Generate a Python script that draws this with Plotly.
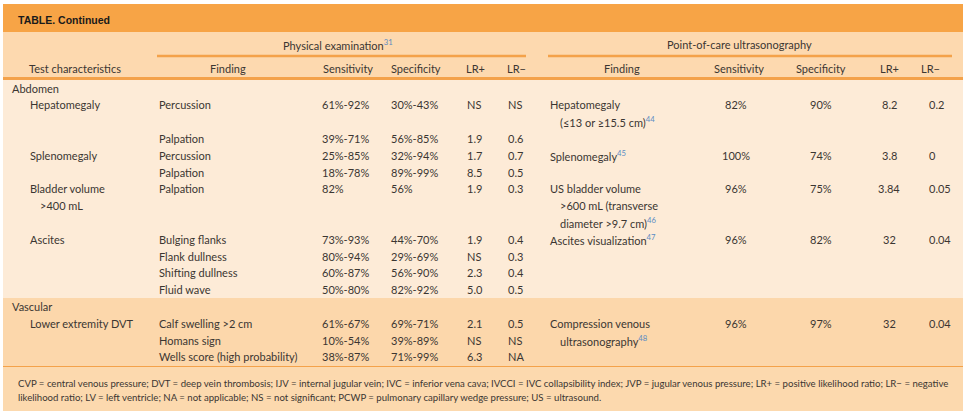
import plotly.graph_objects as go

# ---------------- data ----------------
title_text = "TABLE. Continued"
group_pe = "Physical examination"
group_pe_ref = "31"
group_us = "Point-of-care ultrasonography"
col_headers_pe = ["Test characteristics", "Finding", "Sensitivity", "Specificity", "LR+", "LR\u2212"]
col_headers_us = ["Finding", "Sensitivity", "Specificity", "LR+", "LR\u2212"]

sections = ["Abdomen", "Vascular"]
section_lines = [0, 13]

test_names = [["Hepatomegaly"], ["Splenomegaly"], ["Bladder volume", ">400 mL"], ["Ascites"], ["Lower extremity DVT"]]
test_lines = [1, 4, 6, 9, 14]

pe_finding = ["Percussion", "Palpation", "Percussion", "Palpation", "Palpation",
              "Bulging flanks", "Flank dullness", "Shifting dullness", "Fluid wave",
              "Calf swelling >2 cm", "Homans sign", "Wells score (high probability)"]
pe_lines = [1, 3, 4, 5, 6, 9, 10, 11, 12, 14, 15, 16]
pe_sens = ["61%-92%", "39%-71%", "25%-85%", "18%-78%", "82%", "73%-93%", "80%-94%",
           "60%-87%", "50%-80%", "61%-67%", "10%-54%", "38%-87%"]
pe_spec = ["30%-43%", "56%-85%", "32%-94%", "89%-99%", "56%", "44%-70%", "29%-69%",
           "56%-90%", "82%-92%", "69%-71%", "39%-89%", "71%-99%"]
pe_lrp = ["NS", "1.9", "1.7", "8.5", "1.9", "1.9", "NS", "2.3", "5.0", "2.1", "NS", "6.3"]
pe_lrn = ["NS", "0.6", "0.7", "0.5", "0.3", "0.4", "0.3", "0.4", "0.5", "0.5", "NS", "NA"]

us_finding = [["Hepatomegaly", "(\u226413 or \u226515.5 cm)"], ["Splenomegaly"],
              ["US bladder volume", ">600 mL (transverse", "diameter >9.7 cm)"],
              ["Ascites visualization"], ["Compression venous", "ultrasonography"]]
us_refs = ["44", "45", "46", "47", "48"]
us_lines = [1, 4, 6, 9, 14]
us_sens = ["82%", "100%", "96%", "96%", "96%"]
us_spec = ["90%", "74%", "75%", "82%", "97%"]
us_lrp = ["8.2", "3.8", "3.84", "32", "32"]
us_lrn = ["0.2", "0", "0.05", "0.04", "0.04"]

footnote_lines = [
    "CVP = central venous pressure; DVT = deep vein thrombosis; IJV = internal jugular vein; IVC = inferior vena cava; "
    "IVCCI = IVC collapsibility index; JVP = jugular venous pressure; LR+ = positive likelihood ratio; LR\u2212 = negative",
    "likelihood ratio; LV = left ventricle; NA = not applicable; NS = not significant; PCWP = pulmonary capillary "
    "wedge pressure; US = ultrasound.",
]

# ---------------- style / layout ----------------
W, H = 967, 420
FONT = "Lato"
TXT = "#3b3632"
REF = "#5a8cc4"
C_TITLE = "#F7A446"
C_HEAD = "#FDD9AF"
C_BODY1 = "#FDEBD7"
C_BODY2 = "#FCD7AB"
C_FOOT = "#FCD9AE"
C_LINE = "#F4A24A"

L, R = 3, 963
Y0 = 88.0
DY = 16.8

def yl(i):
    return Y0 + i * DY

fig = go.Figure()
shapes = []
def rect(x0, y0, x1, y1, color):
    shapes.append(dict(type="rect", xref="x", yref="y", x0=x0, x1=x1, y0=y0, y1=y1,
                       fillcolor=color, line=dict(width=0), layer="below"))
def hline(x0, x1, y, color, w):
    shapes.append(dict(type="line", xref="x", yref="y", x0=x0, x1=x1, y0=y, y1=y,
                       line=dict(color=color, width=w)))

rect(L, 4, R, 32, C_TITLE)
rect(L, 32, R, 78, C_HEAD)
rect(L, 78, R, 298, C_BODY1)
rect(L, 298, R, 366, C_BODY2)
rect(L, 366, R, 411, C_FOOT)
hline(157, 526, 56, C_LINE, 2.5)
hline(548, 952, 56, C_LINE, 2.5)
hline(L, R, 78.5, C_LINE, 3)
hline(L, R, 366.5, C_LINE, 1)

ann = []
def text(x, y, s, anchor="left", size=11, color=TXT, family=FONT):
    ann.append(dict(x=x, y=y, xref="x", yref="y", text=s, showarrow=False,
                    xanchor=anchor, yanchor="middle",
                    font=dict(family=family, size=size, color=color)))

def sup(r):
    return f"<span style='color:{REF}'><sup>{r}</sup></span>"

text(16, 19.5, "<b>" + title_text + "</b>", size=10.5, color="#1a1a1a", family="Liberation Sans, Arial")
text(338, 44, group_pe + sup(group_pe_ref), anchor="center")
text(739, 44, group_us, anchor="center")

hy = 68
pe_hx = [(75, "center"), (228, "center"), (321, "left"), (389, "left"), (464, "left"), (505, "left")]
for (x, a), s in zip(pe_hx, col_headers_pe):
    text(x, hy, s, anchor=a)
us_hx = [(622, "center"), (739, "center"), (821, "center"), (889, "center"), (930, "center")]
for (x, a), s in zip(us_hx, col_headers_us):
    text(x, hy, s, anchor=a)

for s, li in zip(sections, section_lines):
    text(10, yl(li), s)
for names, li in zip(test_names, test_lines):
    for k, s in enumerate(names):
        text(28 if k == 0 else 38, yl(li + k), s)

for i, li in enumerate(pe_lines):
    y = yl(li)
    text(157, y, pe_finding[i])
    text(320, y, pe_sens[i])
    text(389, y, pe_spec[i])
    text(465, y, pe_lrp[i])
    text(506, y, pe_lrn[i])

for i, li in enumerate(us_lines):
    lines = us_finding[i]
    for k, s in enumerate(lines):
        if k == len(lines) - 1:
            s = s + sup(us_refs[i])
        text(548 if k == 0 else 558, yl(li + k), s)
    y = yl(li)
    text(736, y, us_sens[i], anchor="center")
    text(821, y, us_spec[i], anchor="center")
    text(889, y, us_lrp[i], anchor="center")
    text(927, y, us_lrn[i])

for k, s in enumerate(footnote_lines):
    text(16, 383 + k * 14.5, s, size=9.6)

fig.update_layout(
    width=W, height=H, margin=dict(l=0, r=0, t=0, b=0),
    paper_bgcolor="white", plot_bgcolor="white",
    xaxis=dict(range=[0, W], visible=False, fixedrange=True),
    yaxis=dict(range=[H, 0], visible=False, fixedrange=True),
    shapes=shapes, annotations=ann, showlegend=False,
)
fig.write_html("out.html", config={"displayModeBar": False},
               post_script="document.body.style.margin='0px';document.body.style.overflow='hidden';")
